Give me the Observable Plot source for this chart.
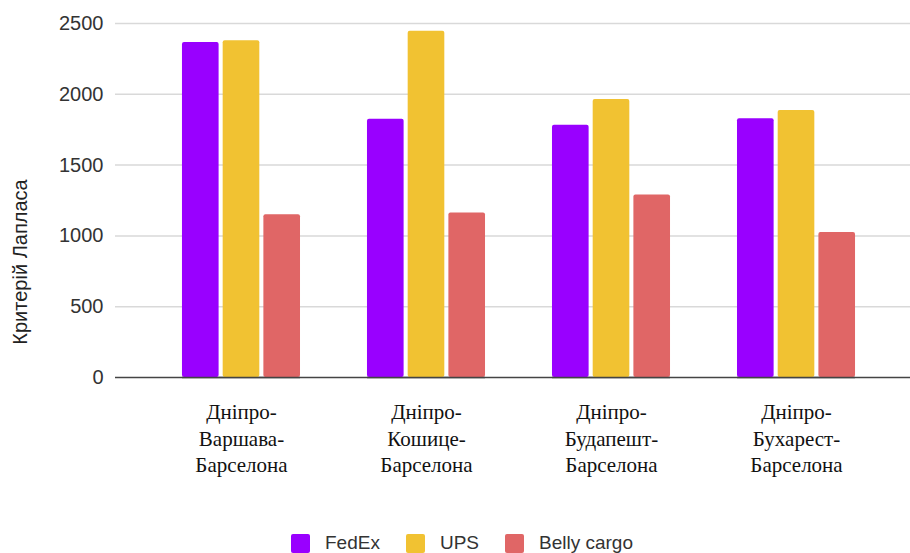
<!DOCTYPE html>
<html>
<head>
<meta charset="utf-8">
<script src="https://cdn.jsdelivr.net/npm/d3@7"></script>
<script src="https://cdn.jsdelivr.net/npm/@observablehq/plot@0.6"></script>
<style>
  html, body { margin: 0; padding: 0; background: #fff; overflow: hidden; width: 910px; height: 553px; }
  #chart { position: relative; width: 910px; height: 526px; }
  #chart svg { display: block; position: absolute; left: 0; top: 0; overflow: visible; }
  #ylabel { position: absolute; z-index: 5; left: 19.5px; top: 262px; transform: translate(-50%, -50%) rotate(-90deg);
            white-space: nowrap; line-height: 1; font-family: "Liberation Sans", Arial, sans-serif; font-size: 20px; color: #222; }
  #legend { height: 34px; display: flex; justify-content: center; align-items: center; padding-left: 14px;
            font-family: "Liberation Sans", Arial, sans-serif; font-size: 19px; color: #333; }
  .item { display: flex; align-items: center; margin: 0 13px; }
  .sw { width: 19px; height: 19px; border-radius: 2px; margin-right: 15px; }
</style>
</head>
<body>
<div id="chart"><div id="ylabel"></div></div>
<div id="legend"></div>
<script>
const routes = ["Дніпро-\nВаршава-\nБарселона", "Дніпро-\nКошице-\nБарселона", "Дніпро-\nБудапешт-\nБарселона", "Дніпро-\nБухарест-\nБарселона"];
const carriers = ["FedEx", "UPS", "Belly cargo"];
const fedex = [2366, 1824, 1782, 1827];
const ups = [2378, 2446, 1963, 1886];
const belly = [1149, 1161, 1288, 1024];
const colors = ["#9900ff", "#f1c232", "#e06666"];
const yTicks = [0, 500, 1000, 1500, 2000, 2500];
const yLabel = "Критерій Лапласа";

const series = [fedex, ups, belly];
const data = routes.flatMap((r, i) => carriers.map((c, j) => ({route: r, carrier: c, value: series[j][i]})));

const common = {
  width: 910, height: 526,
  marginLeft: 115, marginRight: 0, marginTop: 23, marginBottom: 149,
  style: {fontFamily: "'Liberation Sans', Arial, sans-serif", fontSize: "20px", color: "#333", background: "transparent"}
};

// Background layer: grid, baseline, y tick labels
const base = Plot.plot({
  ...common,
  style: {...common.style, background: "white"},
  y: {domain: [0, 2500], axis: null},
  marks: [
    Plot.ruleY(yTicks.filter(t => t > 0), {stroke: "#d9d9d9", strokeWidth: 1.5}),
    Plot.ruleY([0], {stroke: "#444", strokeWidth: 1.5}),
    Plot.text(yTicks, {y: d => d, text: d => String(d), frameAnchor: "left", textAnchor: "end", dx: -12,
      fontSize: 20, fill: "#333"})
  ]
});

// Foreground layer: grouped bars via facets
const fg = Plot.plot({
  ...common,
  fx: {domain: routes, range: [115, 922], paddingInner: 0.362, paddingOuter: 0.362, axis: null, round: false, label: null},
  x: {domain: carriers, paddingInner: 0.1, paddingOuter: 0, axis: null, round: false},
  y: {domain: [0, 2500], axis: null},
  color: {domain: carriers, range: colors},
  marks: [
    Plot.barY(data, {fx: "route", x: "carrier", y: "value", fill: "carrier", rx: 2}),
    Plot.ruleY([0], {stroke: "#444", strokeWidth: 1.5}),
    Plot.text(routes, {fx: d => d, text: d => d, frameAnchor: "bottom", lineAnchor: "top", dy: 23,
      fontFamily: "'Liberation Serif', 'Times New Roman', serif", fontSize: 21, lineHeight: 1.26, fill: "#111"})
  ]
});

document.getElementById("chart").prepend(base, fg);
document.getElementById("ylabel").textContent = yLabel;

const legend = d3.select("#legend");
carriers.forEach((c, i) => {
  const it = legend.append("div").attr("class", "item");
  it.append("div").attr("class", "sw").style("background", colors[i]);
  it.append("span").text(c);
});
</script>
</body>
</html>
